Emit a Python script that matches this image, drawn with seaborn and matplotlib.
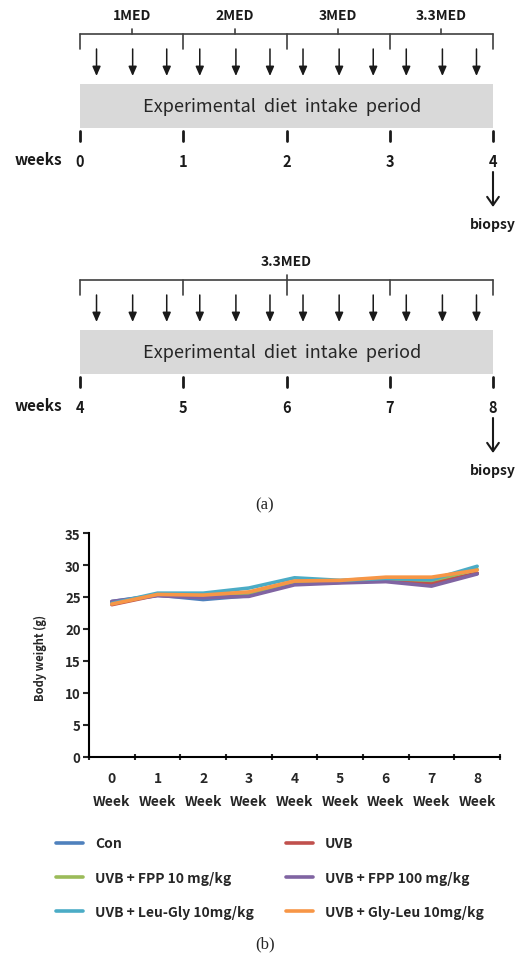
import matplotlib
matplotlib.use("Agg")
import matplotlib.pyplot as plt
from matplotlib.patches import Rectangle
from matplotlib.lines import Line2D
import seaborn as sns
import pandas as pd

# ---------------- data ----------------
weeks = ["0", "1", "2", "3", "4", "5", "6", "7", "8"]
week_tick_labels = [w + "\nWeek" for w in weeks]
groups = ["Con", "UVB", "UVB + FPP 10 mg/kg", "UVB + FPP 100 mg/kg",
          "UVB + Leu-Gly 10mg/kg", "UVB + Gly-Leu 10mg/kg"]
con = [24.3, 25.3, 24.6, 25.2, 27.1, 27.3, 27.6, 27.2, 28.7]
uvb = [23.8, 25.3, 25.0, 25.3, 27.1, 27.3, 27.6, 27.1, 28.7]
fpp10 = [24.0, 25.4, 25.2, 25.6, 27.3, 27.5, 27.9, 27.6, 29.3]
fpp100 = [24.3, 25.2, 24.9, 25.1, 26.9, 27.2, 27.4, 26.7, 28.6]
leugly = [24.0, 25.6, 25.6, 26.4, 28.0, 27.6, 27.9, 27.7, 29.8]
glyleu = [23.9, 25.4, 25.3, 25.8, 27.5, 27.6, 28.1, 28.1, 29.2]
series = [con, uvb, fpp10, fpp100, leugly, glyleu]
colors = ["#4F81BD", "#C0504D", "#9BBB59", "#8064A2", "#4BACC6", "#F79646"]

# timeline diagram content
panel1_weeks = ["0", "1", "2", "3", "4"]
panel1_med = ["1MED", "2MED", "3MED", "3.3MED"]
panel2_weeks = ["4", "5", "6", "7", "8"]
panel2_med = ["3.3MED"]
arrow_fracs = [0.16, 0.51, 0.84]
period_text = "Experimental  diet  intake  period"

# ---------------- figure ----------------
sns.set_theme(style="ticks")
FAM = ["Noto Sans CJK KR", "DejaVu Sans"]
plt.rcParams["font.family"] = FAM

fig = plt.figure(figsize=(5.24, 9.54), dpi=100)
fig.patch.set_facecolor("white")

diag = fig.add_axes([0, 0, 1, 1])
diag.set_xlim(0, 524)
diag.set_ylim(954, 0)
diag.axis("off")

X0, WK = 80.0, 103.25
INK = "#1a1a1a"


def timeline(off, wlabels, meds):
    nweeks = len(wlabels) - 1
    xs = [X0 + i * WK for i in range(nweeks + 1)]
    yl = 35 + off
    diag.plot([xs[0], xs[-1]], [yl, yl], color="#404040", lw=1.2)
    for x in xs:
        diag.plot([x, x], [yl, yl + 15], color="#404040", lw=1.2)
    span = nweeks / len(meds)
    for i, m in enumerate(meds):
        xc = X0 + (i + 0.5) * span * WK
        diag.plot([xc, xc], [yl - 5, yl], color="#404040", lw=1.2)
        diag.text(xc, 16 + off, m, ha="center", va="center",
                  fontsize=10, fontweight="bold", color=INK)
    for i in range(nweeks):
        for f in arrow_fracs:
            x = X0 + (i + f) * WK
            diag.annotate("", xy=(x, 77 + off), xytext=(x, 50 + off),
                          arrowprops=dict(arrowstyle="-|>,head_length=0.8,head_width=0.35",
                                          color=INK, lw=1.1,
                                          mutation_scale=7, shrinkA=0, shrinkB=0))
    diag.add_patch(Rectangle((xs[0], 85 + off), xs[-1] - xs[0], 44,
                             facecolor="#d9d9d9", edgecolor="none"))
    diag.text((xs[0] + xs[-1]) / 2 - 4, 107 + off, period_text, ha="center",
              va="center", fontsize=13, color="#262626")
    for x, w in zip(xs, wlabels):
        diag.plot([x, x], [132 + off, 142 + off], color=INK, lw=2)
        diag.text(x, 162 + off, w, ha="center", va="center", fontsize=10.5,
                  fontweight="bold", color=INK)
    diag.text(38, 160 + off, "weeks", ha="center", va="center", fontsize=11,
              fontweight="bold", color=INK)
    diag.annotate("", xy=(xs[-1], 208 + off), xytext=(xs[-1], 173 + off),
                  arrowprops=dict(arrowstyle="->,head_length=0.5,head_width=0.35",
                                  color=INK, lw=1.5, mutation_scale=12,
                                  shrinkA=0, shrinkB=0))
    diag.text(xs[-1], 225 + off, "biopsy", ha="center", va="center",
              fontsize=10, fontweight="bold", color=INK)


timeline(0, panel1_weeks, panel1_med)
timeline(246, panel2_weeks, panel2_med)

diag.text(265, 505, "(a)", ha="center", va="center", fontsize=12,
          family="Liberation Serif")
diag.text(265, 944, "(b)", ha="center", va="center", fontsize=12,
          family="Liberation Serif")

# ---------------- line chart ----------------
ax = fig.add_axes([89 / 524, 1 - 758 / 954, 411 / 524, 224 / 954])
df = pd.DataFrame({
    "week": weeks * len(groups),
    "x": list(range(len(weeks))) * len(groups),
    "weight": [v for s in series for v in s],
    "group": [g for g in groups for _ in weeks],
})
sns.lineplot(data=df, x="x", y="weight", hue="group", hue_order=groups,
             palette=colors, lw=2.6, ax=ax, legend=True)
ax.get_legend().remove()

ax.set_xlim(-0.5, len(weeks) - 0.5)
ax.set_ylim(0, 35)
ax.set_yticks(range(0, 36, 5))
ax.set_xticks(range(len(weeks)))
ax.set_xticklabels(week_tick_labels, fontsize=10, fontweight="bold",
                   linespacing=1.85, color="#262626")
ax.set_xticks([i - 0.5 for i in range(len(weeks) + 1)], minor=True)
ax.tick_params(axis="x", which="major", length=0, pad=10)
ax.tick_params(axis="x", which="minor", length=4, width=1.5, direction="inout")
ax.tick_params(axis="y", length=4, width=1.5, pad=2, labelsize=9.5, labelcolor="#262626")
for t in ax.get_yticklabels():
    t.set_fontweight("bold")
ax.set_xlabel("")
ax.set_ylabel("Body weight (g)", fontsize=8, fontweight="bold")
ax.yaxis.set_label_coords(-0.102, 0.446)
for s in ["top", "right"]:
    ax.spines[s].set_visible(False)
for s in ["left", "bottom"]:
    ax.spines[s].set_linewidth(1.5)
    ax.spines[s].set_color("black")

col1 = [0, 2, 4]
col2 = [1, 3, 5]
for cols, xanchor in [(col1, 43 / 524), (col2, 273 / 524)]:
    hs = [Line2D([], [], color=colors[i], lw=2.6) for i in cols]
    lg = fig.legend(hs, [groups[i] for i in cols], loc="upper left",
                    bbox_to_anchor=(xanchor, 1 - 825 / 954), frameon=False,
                    handlelength=2.0, handletextpad=0.85, labelspacing=1.45,
                    prop=dict(size=10, weight="bold", family=FAM))
    for t in lg.get_texts():
        t.set_color("#262626")

fig.savefig("out.png", dpi=100, facecolor="white")
